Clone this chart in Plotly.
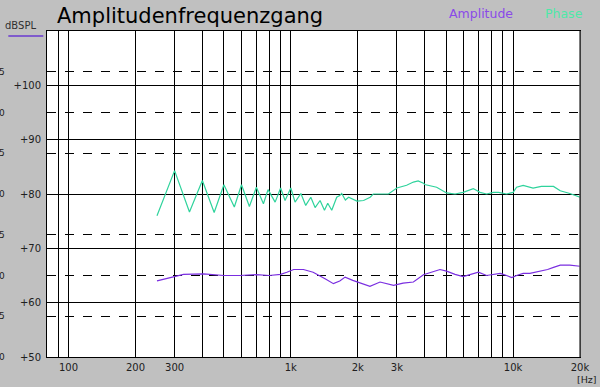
import plotly.graph_objects as go
import math

# ---- data ----
phase_freq = [250, 300, 350, 400, 452, 500, 557, 600, 651, 700, 753, 790, 850, 900, 942, 1000,
              1045, 1110, 1167, 1230, 1286, 1354, 1417, 1466, 1528, 1609, 1660, 1694, 1760, 1820,
              1983, 2125, 2275, 2350, 2520, 2750, 3000, 3320, 3560, 3740, 3950, 4000, 4530, 5020,
              5480, 5960, 6620, 7100, 7600, 8150, 8600, 9350, 10000, 10370, 11100, 12300, 13400,
              15200, 16300, 18000, 20000]
phase_db = [76.0, 84.3, 76.7, 82.5, 76.6, 81.7, 77.6, 81.7, 77.7, 81.25, 78.2, 80.8, 78.5, 81.1, 78.8, 81.1,
            78.5, 80.1, 77.9, 79.4, 77.5, 78.8, 77.0, 78.3, 77.0, 79.4, 79.7, 80.1, 78.9, 79.4,
            78.7, 78.8, 79.4, 80.0, 80.0, 80.0, 81.1, 81.6, 82.2, 82.4, 82.0, 81.75, 81.25, 80.2,
            80.0, 80.3, 81.0, 80.3, 80.0, 80.3, 80.3, 80.0, 80.3, 81.25, 81.6, 81.1, 81.4,
            81.4, 80.6, 80.1, 79.4]

amp_freq = [250, 300, 329, 405, 450, 500, 590, 700, 800, 900, 960, 1030, 1140, 1260, 1426, 1555,
            1660, 1755, 1900, 2075, 2270, 2520, 2700, 2900, 3200, 3560, 3950, 4300, 4690, 5020,
            5480, 5960, 6510, 6980, 7600, 8150, 8750, 9350, 9870, 10370, 11100, 11900, 13100,
            14300, 15200, 16300, 18000, 20000]
amp_db = [64.0, 64.8, 65.2, 65.3, 65.15, 65.0, 65.0, 65.15, 65.0, 65.2, 65.6, 66.1, 66.1, 65.6, 64.4, 63.5,
          64.0, 64.7, 64.1, 63.5, 63.0, 63.8, 63.5, 63.2, 63.6, 63.8, 65.15, 65.6, 66.1, 65.8,
          65.2, 64.8, 65.3, 65.6, 65.0, 65.2, 65.4, 65.0, 64.6, 65.0, 65.4, 65.4, 65.8,
          66.1, 66.5, 66.9, 66.9, 66.7]

x_tick_vals = [100, 200, 300, 1000, 2000, 3000, 10000, 20000]
x_tick_text = ["100", "200", "300", "1k", "2k", "3k", "10k", "20k"]
x_grid_vals = [80, 90, 100, 200, 300, 400, 500, 600, 700, 800, 900,
               1000, 2000, 3000, 4000, 5000, 6000, 7000, 8000, 9000, 10000, 20000]
y_tick_vals = [50, 60, 70, 80, 90, 100]
y_tick_text = ["+50", "+60", "+70", "+80", "+90", "+100"]
y_dash_vals = [57.5, 65, 72.5, 87.5, 95, 102.5]
side_labels = ["5", "0", "5", "0", "5", "0", "5", "0"]
side_vals = [57.5, 65, 72.5, 80, 87.5, 95, 102.5, 50]

AMP_COLOR = "#7a2ee0"
PH_COLOR = "#2fd39c"
FONT = "DejaVu Sans, Verdana, sans-serif"

fig = go.Figure()
fig.add_trace(go.Scatter(x=phase_freq, y=phase_db, mode="lines",
                         line=dict(color=PH_COLOR, width=1.2), name="Phase", showlegend=False))
fig.add_trace(go.Scatter(x=amp_freq, y=amp_db, mode="lines",
                         line=dict(color=AMP_COLOR, width=1.2), name="Amplitude", showlegend=False))

L, T, W, H = 46.7, 31, 533.3, 325.7
fig.update_layout(
    width=600, height=387,
    margin=dict(l=L, r=600 - L - W, t=T, b=387 - T - H, pad=0),
    paper_bgcolor="#c0c0c0", plot_bgcolor="white",
    font=dict(family=FONT, size=10, color="#202020"),
    title=dict(text="Amplitudenfrequenzgang", x=57 / 600, xanchor="left", xref="container",
               y=1 - 16 / 387, yanchor="middle", yref="container",
               font=dict(family=FONT, size=21, color="black")),
)
fig.update_xaxes(type="log", range=[math.log10(80), math.log10(20000)],
                 tickvals=x_tick_vals, ticktext=x_tick_text, ticks="",
                 showgrid=True, gridcolor="black", gridwidth=1,
                 minor=dict(tickvals=x_grid_vals, showgrid=True, gridcolor="black", gridwidth=1, ticks=""),
                 showline=True, linecolor="black", linewidth=1, mirror=True,
                 tickfont=dict(family=FONT, size=10, color="#202020"), ticklabelstandoff=1, zeroline=False)
fig.update_yaxes(range=[50, 110], tickvals=y_tick_vals, ticktext=y_tick_text, ticks="",
                 showgrid=True, gridcolor="black", gridwidth=1,
                 minor=dict(tickvals=y_dash_vals, showgrid=True, gridcolor="black", gridwidth=1,
                            griddash="dash", ticks=""),
                 showline=True, linecolor="black", linewidth=1, mirror=True,
                 tickfont=dict(family=FONT, size=10, color="#202020"), ticklabelstandoff=3, zeroline=False)

ann = []
ann.append(dict(text="dBSPL", xref="paper", yref="paper", x=(3 - L) / W, y=1 + (T - 26) / H,
                xanchor="left", yanchor="middle", showarrow=False,
                font=dict(family=FONT, size=10, color="#303030")))
ann.append(dict(text="Amplitude", xref="paper", yref="paper", x=(447 - L) / W, y=1 + (T - 14) / H,
                xanchor="left", yanchor="middle", showarrow=False,
                font=dict(family=FONT, size=12.5, color="#8a4ae8")))
ann.append(dict(text="Phase", xref="paper", yref="paper", x=(543 - L) / W, y=1 + (T - 14) / H,
                xanchor="left", yanchor="middle", showarrow=False,
                font=dict(family=FONT, size=12.5, color="#4ee8a8")))
ann.append(dict(text="[Hz]", xref="paper", yref="paper", x=(599 - L) / W, y=-(379 - T - H) / H,
                xanchor="right", yanchor="middle", showarrow=False,
                font=dict(family=FONT, size=9.5, color="#202020")))
for v, t in zip(side_vals, side_labels):
    ann.append(dict(text=t, xref="paper", yref="y", x=(7 - L) / W, y=v,
                    xanchor="right", yanchor="middle", showarrow=False,
                    font=dict(family=FONT, size=9, color="#202020")))
fig.update_layout(annotations=ann)

fig.add_shape(type="line", xref="paper", yref="paper",
              x0=(8 - L) / W, x1=(43 - L) / W, y0=1 + (T - 36) / H, y1=1 + (T - 36) / H,
              line=dict(color="#6a3ad0", width=1.5))
fig.add_shape(type="line", xref="paper", yref="paper", x0=1, x1=1, y0=0, y1=1,
              line=dict(color="#505050", width=1.5))

fig.write_html("out.html")
